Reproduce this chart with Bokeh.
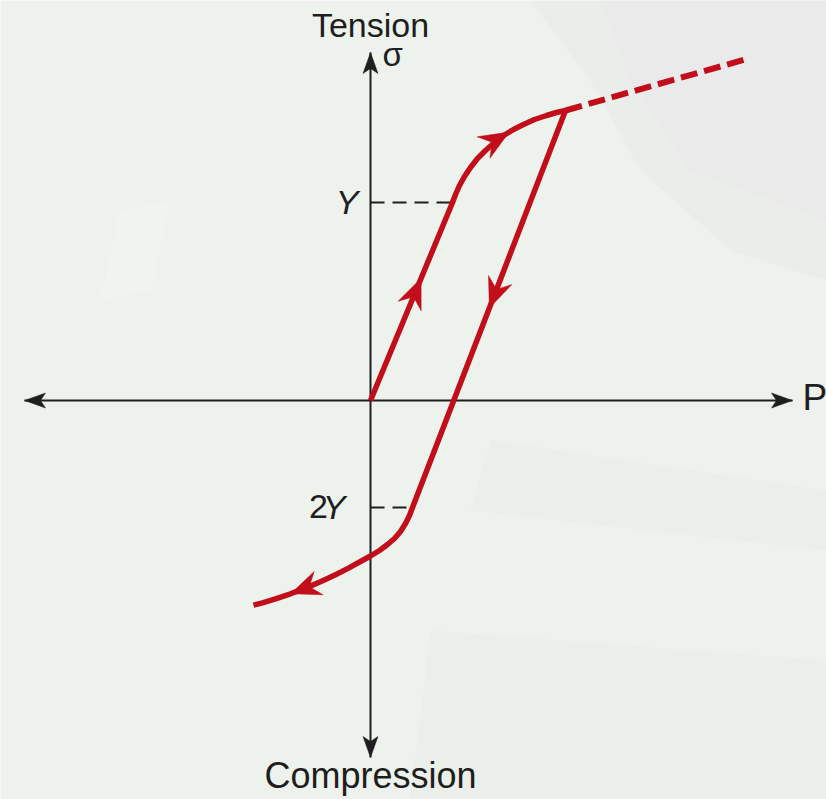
import numpy as np
from bokeh.plotting import figure
from bokeh.models import Range1d
from bokeh.embed import file_html
from bokeh.resources import INLINE
from bokeh.core.properties import value

# ---- data: stress-strain path (strain on x, stress on y) ----
load_x = [0.00, 0.82, 0.85, 0.89, 0.94, 1.00, 1.07, 1.15, 1.24, 1.33, 1.43, 1.53, 1.64, 1.76, 1.86, 1.95]
load_y = [0.00, 1.98, 2.06, 2.15, 2.24, 2.33, 2.42, 2.50, 2.58, 2.65, 2.71, 2.76, 2.81, 2.85, 2.88, 2.90]

unload_x = [1.95, 0.42, 0.39, 0.35, 0.30, 0.24, 0.17, 0.09, 0.00, -0.10, -0.22, -0.35,
            -0.50, -0.65, -0.80, -0.95, -1.08, -1.17]
unload_y = [2.90, -1.07, -1.15, -1.23, -1.31, -1.38, -1.44, -1.50, -1.555, -1.610, -1.676, -1.743,
            -1.813, -1.876, -1.933, -1.984, -2.023, -2.047]

# continued tensile loading (not followed)
extend_x = [1.95, 3.78]
extend_y = [2.90, 3.42]

# marked stress levels on the sigma axis
level_labels = ["Y", "2Y"]
level_values = [load_y[1], unload_y[1]]
level_strain = [load_x[1], unload_x[1]]

# direction markers along the path: (path, strain, stress)
marker_points = [("load", 1.39, 2.68), ("load", 0.51, 1.22),
                 ("unload", 1.20, 0.92), ("unload", -0.80, -1.93)]

# axis extents
axis_x = [-3.46, 4.22]
axis_y = [-3.57, 3.48]

RED = "#c20e1a"
INK = "#1e1e1e"
FONT = "Liberation Sans"
LIFT = 0.13  # baseline correction for svg text

p = figure(width=826, height=799, output_backend="svg", toolbar_location=None,
           x_range=Range1d(-3.70, 4.56), y_range=Range1d(-3.99, 4.00),
           min_border=0, min_border_left=0, min_border_right=0,
           min_border_top=0, min_border_bottom=0)
p.axis.visible = False
p.grid.visible = False
p.outline_line_color = None
p.background_fill_color = "#edf2ec"
p.border_fill_color = "#edf2ec"

# faint photographic backdrop
p.patch([1.6, 4.56, 4.56, 3.6, 2.7, 2.2], [4.0, 4.0, 1.2, 1.5, 2.3, 3.2],
        fill_color="#e9e9e9", fill_alpha=0.55, line_alpha=0)
p.patch([2.3, 4.56, 4.56, 3.2, 2.6], [4.0, 4.0, 1.8, 2.3, 3.2],
        fill_color="#e8e8e8", fill_alpha=0.6, line_alpha=0)
p.patch([1.2, 4.56, 4.56, 1.0], [-0.4, -0.9, -1.5, -1.1],
        fill_color="#e7e9e6", fill_alpha=0.35, line_alpha=0)
p.patch([0.6, 4.56, 4.56, 0.4], [-2.3, -2.6, -3.99, -3.99],
        fill_color="#e9ebe8", fill_alpha=0.35, line_alpha=0)
p.patch([-2.5, -2.0, -2.2, -2.7], [1.9, 2.0, 1.1, 1.0],
        fill_color="#f4f7f2", fill_alpha=0.3, line_alpha=0)


def head(tx, ty, dx, dy, length, half_w, notch):
    n = np.hypot(dx, dy)
    ux, uy = dx / n, dy / n
    vx, vy = -uy, ux
    bx, by = tx - ux * length, ty - uy * length
    xs = [tx, bx + vx * half_w, tx - ux * notch, bx - vx * half_w]
    ys = [ty, by + vy * half_w, ty - uy * notch, by - vy * half_w]
    return xs, ys


def snap(xs, ys, px, py):
    best = None
    for i in range(len(xs) - 1):
        ax, ay, bx, by = xs[i], ys[i], xs[i + 1], ys[i + 1]
        dx, dy = bx - ax, by - ay
        t = ((px - ax) * dx + (py - ay) * dy) / (dx * dx + dy * dy)
        t = min(max(t, 0.0), 1.0)
        qx, qy = ax + t * dx, ay + t * dy
        d = (qx - px) ** 2 + (qy - py) ** 2
        if best is None or d < best[0]:
            best = (d, qx, qy, dx, dy)
    return best[1:]


# coordinate axes with arrowheads at both ends
p.line(axis_x, [0, 0], line_color=INK, line_width=2)
p.line([0, 0], axis_y, line_color=INK, line_width=2)
ax_heads_x, ax_heads_y = [], []
for tx, ty, dx, dy in [(axis_x[0], 0, -1, 0), (axis_x[1], 0, 1, 0),
                       (0, axis_y[0], 0, -1), (0, axis_y[1], 0, 1)]:
    hx, hy = head(tx, ty, dx, dy, 0.21, 0.075, 0.16)
    ax_heads_x.append(hx)
    ax_heads_y.append(hy)
p.patches(ax_heads_x, ax_heads_y, fill_color=INK, line_color=INK, line_width=0.5)

# dashed reference lines to the yield levels
for lv, ls in zip(level_values, level_strain):
    p.line([0, ls], [lv, lv], line_color=INK, line_width=2, line_dash="14 8")

# stress-strain path
p.line(extend_x, extend_y, line_color=RED, line_width=6, line_dash="17 7")
p.line(load_x, load_y, line_color=RED, line_width=5.5, line_join="round")
p.line(unload_x, unload_y, line_color=RED, line_width=5.5, line_join="round")

paths = {"load": (load_x, load_y), "unload": (unload_x, unload_y)}
mk_x, mk_y = [], []
for name, sx, sy in marker_points:
    qx, qy, dx, dy = snap(*paths[name], sx, sy)
    hx, hy = head(qx, qy, dx, dy, 0.30, 0.125, 0.20)
    mk_x.append(hx)
    mk_y.append(hy)
p.patches(mk_x, mk_y, fill_color=RED, line_color=RED, line_width=0.5)


def label(x, y, s, size, align="left", style="normal"):
    p.text([x], [y + LIFT], text=[s], text_align=align, text_baseline="alphabetic",
           text_font=value(FONT), text_font_size=size, text_font_style=style,
           text_color=INK)


label(0, 3.63, "Tension", "34px", "center")
label(0, -3.88, "Compression", "36px", "center")
label(0.12, 3.33, "σ", "33px")
label(4.32, -0.10, "P", "37px")

# level labels: numeric prefix upright, the Y italic
for lab, lv in zip(level_labels, level_values):
    prefix = lab[:-1]
    yx = -0.12 if not prefix else -0.25
    label(yx, lv - 0.12, lab[-1], "34px", "right", "italic")
    if prefix:
        label(yx - 0.175, lv - 0.12, prefix, "34px", "right")

html = file_html(p, INLINE)
html = html.replace("<head>", "<head><style>html,body{margin:0;padding:0;}</style>", 1)
open("out.html", "w").write(html)
